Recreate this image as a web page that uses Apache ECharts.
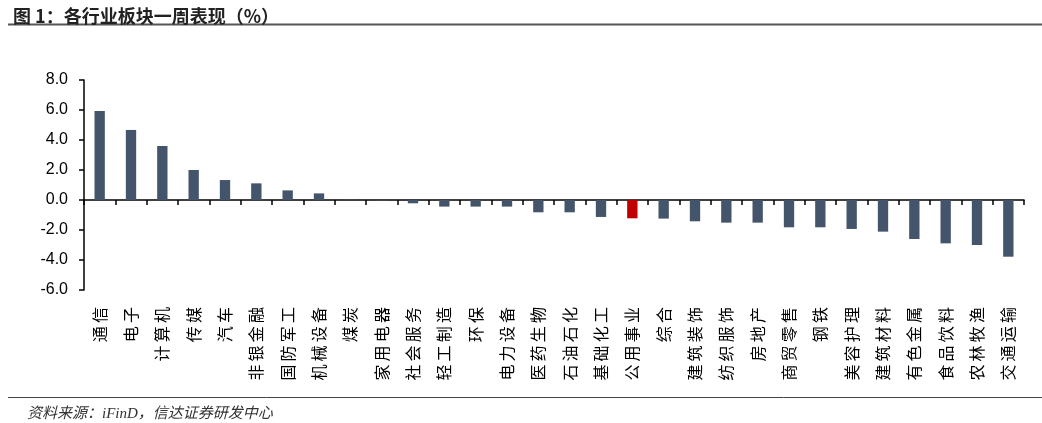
<!DOCTYPE html>
<html><head><meta charset="utf-8">
<script src="https://cdn.jsdelivr.net/npm/echarts@6/dist/echarts.min.js"></script>
<style>html,body{margin:0;padding:0;background:#fff}#c{width:1042px;height:423px}</style>
</head><body><div id="c"></div>
<script>
const categories = ['通信','电子','计算机','传媒','汽车','非银金融','国防军工','机械设备','煤炭','家用电器','社会服务','轻工制造','环保','电力设备','医药生物','石油石化','基础化工','公用事业','综合','建筑装饰','纺织服饰','房地产','商贸零售','钢铁','美容护理','建筑材料','有色金属','食品饮料','农林牧渔','交通运输'];
const values = [5.93,4.67,3.6,2.0,1.33,1.11,0.64,0.44,0.02,-0.03,-0.22,-0.44,-0.44,-0.44,-0.82,-0.82,-1.13,-1.22,-1.24,-1.42,-1.51,-1.51,-1.82,-1.82,-1.93,-2.11,-2.6,-2.89,-3.0,-3.78];
const highlight = '公用事业';
const yTicks = {min:-6, max:8, interval:2};
const titleText = '图 1：各行业板块一周表现（%）';
const sourceText = '资料来源：iFinD，信达证券研发中心';

const chart = echarts.init(document.getElementById('c'), null, {renderer:'canvas'});
const cjk = '"Noto Sans CJK SC", sans-serif';
chart.setOption({
  animation:false,
  title:[
    {text:titleText, left:8, top:2, textStyle:{fontFamily:cjk, fontSize:18, fontWeight:'bold', color:'#222'}},
    {text:sourceText, left:22, top:402, textStyle:{fontFamily:'"Liberation Serif", "Noto Sans CJK SC", serif', fontStyle:'italic', fontSize:15, fontWeight:'normal', color:'#333'}}
  ],
  graphic:[
    {type:'line', shape:{x1:8,y1:24.5,x2:1042,y2:24.5}, style:{stroke:'#555', lineWidth:2}},
    {type:'line', shape:{x1:8,y1:397.5,x2:1042,y2:397.5}, style:{stroke:'#444', lineWidth:1}}
  ],
  grid:{left:84, right:18, top:80, bottom:133},
  xAxis:[
    {type:'category', data:categories, position:'bottom',
     axisLine:{show:false, onZero:false}, axisTick:{show:false},
     axisLabel:{interval:0, rotate:90, margin:17, fontFamily:cjk, fontSize:16, color:'#000',
       formatter:s=>s.split('').join('\u2009')}},
    {type:'category', data:categories, position:'bottom',
     axisLine:{show:true, onZero:true, lineStyle:{color:'#000', width:1.5}},
     axisTick:{show:true, interval:0, length:5, lineStyle:{color:'#000', width:1.5}},
     axisLabel:{show:false}}
  ],
  yAxis:{type:'value', min:yTicks.min, max:yTicks.max, interval:yTicks.interval,
    axisLine:{show:true, lineStyle:{color:'#000', width:1.5}},
    axisTick:{show:true, length:5, lineStyle:{color:'#000', width:1.5}},
    splitLine:{show:false},
    axisLabel:{margin:16, fontFamily:'"Liberation Sans", Arial, sans-serif', fontSize:16, color:'#000',
      formatter:v=>v.toFixed(1)}},
  series:[{type:'bar', xAxisIndex:0, barWidth:'33%',
    data:values.map((v,i)=>({value:v, itemStyle:{color: categories[i]===highlight ? '#C00000' : '#44546A'}}))}]
});
</script></body></html>
